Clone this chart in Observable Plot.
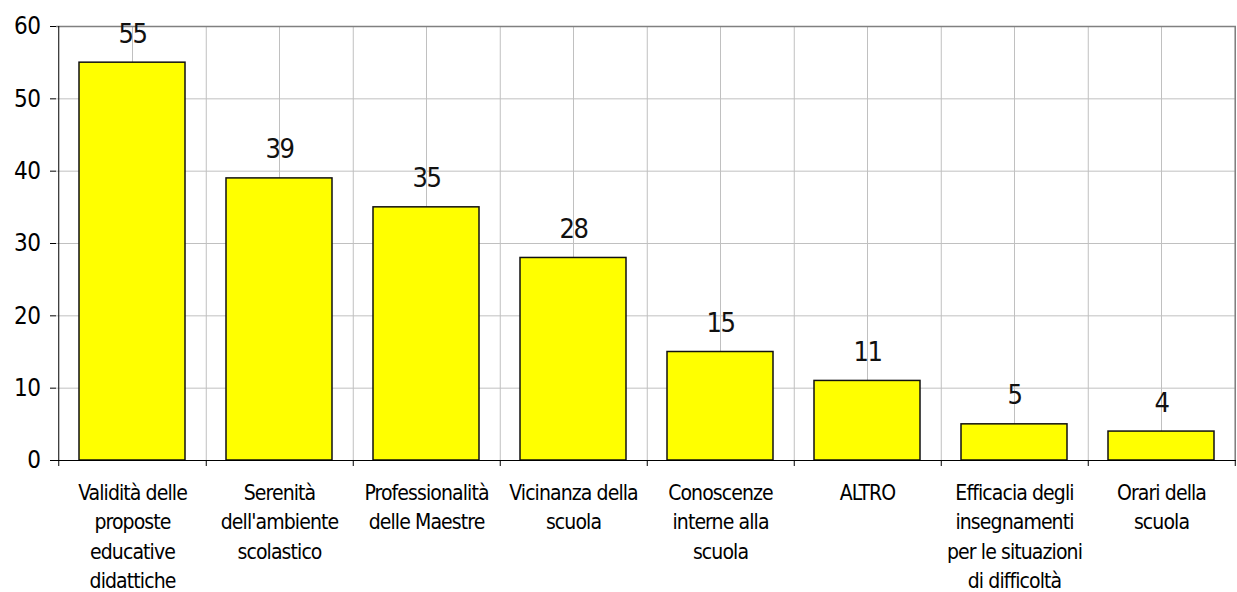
<!DOCTYPE html>
<html>
<head>
<meta charset="utf-8">
<script src="https://cdn.jsdelivr.net/npm/d3@7"></script>
<script src="https://cdn.jsdelivr.net/npm/@observablehq/plot@0.6"></script>
<style>
  html, body { margin: 0; padding: 0; background: white; overflow: hidden; }
  #chart svg text { font-stretch: condensed; }
  #chart svg g[aria-label="x-axis tick label"] text { letter-spacing: -0.9px; }
  #chart svg g[aria-label="text"] text { letter-spacing: -1.5px; }
  #chart svg g[aria-label="y-axis tick label"] text { letter-spacing: -0.5px; }
</style>
</head>
<body>
<div id="chart"></div>
<script>
const categories = [
  "Validità delle\nproposte\neducative\ndidattiche",
  "Serenità\ndell'ambiente\nscolastico",
  "Professionalità\ndelle Maestre",
  "Vicinanza della\nscuola",
  "Conoscenze\ninterne alla\nscuola",
  "ALTRO",
  "Efficacia degli\ninsegnamenti\nper le situazioni\ndi difficoltà",
  "Orari della\nscuola"
];
const values = [55, 39, 35, 28, 15, 11, 5, 4];
const yTicks = [0, 10, 20, 30, 40, 50, 60];

const data = categories.map((c, i) => ({category: c, value: values[i]}));

const W = 1237, H = 592, ML = 56, MR = 1, MT = 26, MB = 132;
const step = (W - ML - MR) / categories.length;
const font = "'DejaVu Sans Condensed', 'DejaVu Sans', sans-serif";

const chart = Plot.plot({
  width: W,
  height: H,
  marginLeft: ML,
  marginRight: MR,
  marginTop: MT,
  marginBottom: MB,
  style: {fontFamily: font, background: "white", color: "black"},
  x: {domain: categories, paddingInner: 0.28, paddingOuter: 0.14, label: null},
  y: {domain: [0, 60], label: null},
  marks: [
    Plot.gridY(yTicks.slice(1, -1), {stroke: "#c0c0c0", strokeOpacity: 1}),
    Plot.gridX(categories, {stroke: "#c0c0c0", strokeOpacity: 1}),
    Plot.ruleX(categories, {dx: step / 2, stroke: "#c0c0c0"}),
    Plot.ruleY([60], {stroke: "#808080", strokeWidth: 1.5}),
    Plot.ruleX([categories[categories.length - 1]], {dx: step / 2, stroke: "#808080", strokeWidth: 1.5}),
    Plot.barY(data, {x: "category", y: "value", fill: "#ffff00", stroke: "#111", strokeWidth: 1.5}),
    Plot.text(data, {x: "category", y: "value", text: d => String(d.value), lineAnchor: "bottom", dy: -20, fontSize: 27, fill: "#111"}),
    Plot.ruleY([0], {stroke: "black"}),
    Plot.ruleX([categories[0]], {dx: -step / 2, stroke: "black"}),
    Plot.ruleX([categories[0]], {dx: -step / 2, y1: 0, y2: 0, insetBottom: -6, stroke: "black"}),
    Plot.ruleX(categories, {dx: step / 2, y1: 0, y2: 0, insetBottom: -6, stroke: "black"}),
    Plot.axisY({ticks: yTicks, tickSize: 6, tickPadding: 10, fontSize: 24, tickFormat: d => String(d)}),
    Plot.axisX({tickSize: 0, tickPadding: 19, fontSize: 21, lineHeight: 1.39, lineAnchor: "top"})
  ]
});
document.getElementById("chart").appendChild(chart);
</script>
</body>
</html>
